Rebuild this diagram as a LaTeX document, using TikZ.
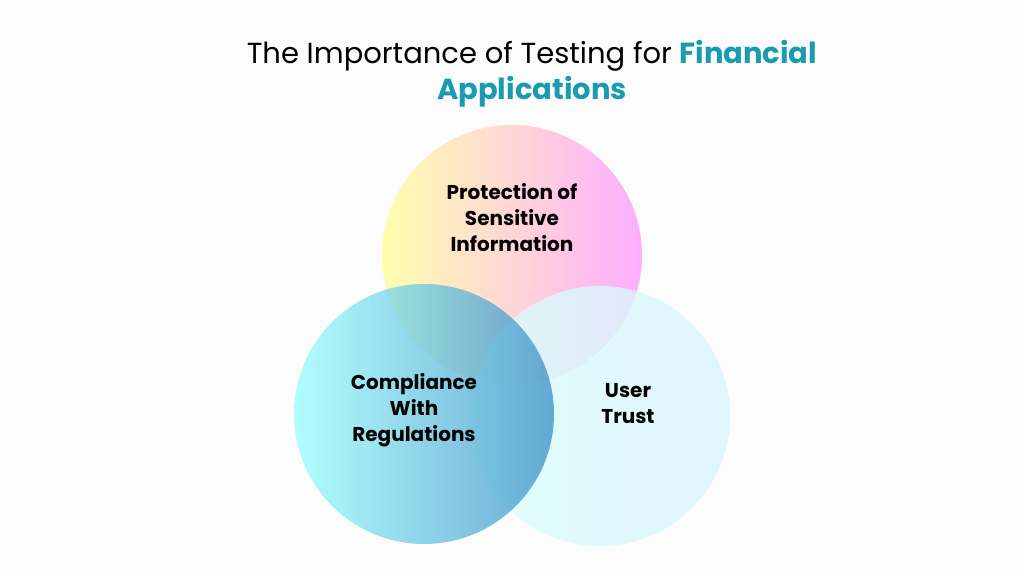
\documentclass[tikz,border=0pt]{standalone}
\usepackage{fontspec}
\setmainfont{Poppins}
\definecolor{teal}{HTML}{1A9BB0}
\begin{document}
\begin{tikzpicture}[x=1pt,y=-1pt,
  lbl/.style={font=\fontsize{20}{26}\selectfont\bfseries, align=center, text=black}]
\useasboundingbox[fill=white!98!gray] (0,0) rectangle (1024,576);
\node[font=\fontsize{29}{36}\selectfont, align=center] (title) at (532,74)
  {The Importance of Testing for \textcolor{teal}{\bfseries Financial}\\\textcolor{teal}{\bfseries Applications}};
\shade[left color=yellow!35!white, right color=magenta!35!white, fill opacity=0.9] (512,255) circle (130);
\shade[left color=green!12!cyan!15!white, right color=blue!30!cyan!15!white, fill opacity=0.8] (600,416) circle (130);
\shade[left color=cyan!40!white, right color=blue!40!cyan!55!gray, fill opacity=0.75] (424,414) circle (130);
\node[lbl] (p) at (512,218) {Protection of\\Sensitive\\Information};
\node[lbl] (c) at (414,410) {Compliance\\With\\Regulations};
\node[lbl] (u) at (628,404) {User\\Trust};
\end{tikzpicture}
\end{document}
